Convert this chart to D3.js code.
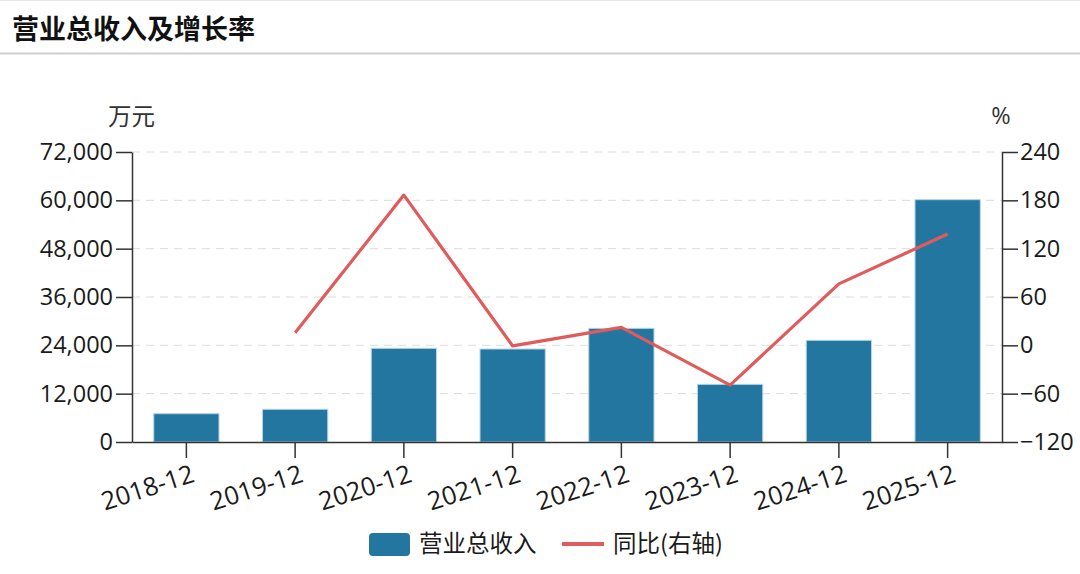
<!DOCTYPE html>
<html>
<head>
<meta charset="utf-8">
<script src="https://cdn.jsdelivr.net/npm/d3@7"></script>
<style>
  body { margin: 0; background: #fff; }
  svg { display: block; font-family: "Open Sans", "Noto Sans CJK SC", sans-serif; }
</style>
</head>
<body>
<svg id="chart" width="1080" height="574"></svg>
<script>
// data
const categories = ['2018-12', '2019-12', '2020-12', '2021-12', '2022-12', '2023-12', '2024-12', '2025-12'];
const revenue = [7030, 8120, 23260, 23090, 28220, 14320, 25250, 60160];   // 万元
const growth = [null, 15.5, 186.5, -0.7, 22.2, -49.3, 76.3, 138.2];      // %
const leftTicks = [0, 12000, 24000, 36000, 48000, 60000, 72000];
const rightTicks = [-120, -60, 0, 60, 120, 180, 240];

const svg = d3.select('#chart');
const plotLeft = 132, plotRight = 1002, plotTop = 152, plotBottom = 442;

// header
svg.append('line').attr('x1', 0).attr('x2', 1080).attr('y1', 0.5).attr('y2', 0.5)
	.attr('stroke', '#e6e6e6');
svg.append('text').attr('x', 12).attr('y', 39)
	.attr('font-family', '"Noto Sans CJK SC", sans-serif')
	.attr('font-size', 27).attr('font-weight', 'bold').attr('fill', '#111')
	.text('营业总收入及增长率');
svg.append('line').attr('x1', 0).attr('x2', 1080).attr('y1', 53.5).attr('y2', 53.5)
	.attr('stroke', '#cfcfd4').attr('stroke-width', 2);

let x = d3.scaleBand().domain(categories).range([plotLeft, plotRight])
	.paddingInner(0.4).paddingOuter(0.2);
let yL = d3.scaleLinear().domain([0, 72000]).range([plotBottom, plotTop]);
let yR = d3.scaleLinear().domain([-120, 240]).range([plotBottom, plotTop]);

// grid
svg.append('g').selectAll('line')
	.data(leftTicks.filter(d => d > 0))
	.enter().append('line')
	.attr('x1', plotLeft).attr('x2', plotRight)
	.attr('y1', d => yL(d)).attr('y2', d => yL(d))
	.attr('stroke', '#dcdcdc').attr('stroke-dasharray', '8,6');

// bars
svg.append('g').selectAll('rect')
	.data(revenue)
	.enter().append('rect')
	.attr('x', (d, i) => x(categories[i]))
	.attr('width', x.bandwidth())
	.attr('y', d => yL(d))
	.attr('height', d => plotBottom - yL(d))
	.attr('fill', '#23769f')
	.attr('stroke', '#b5d5e8').attr('stroke-width', 1);

// growth line
let line = d3.line()
	.defined(d => d != null)
	.x((d, i) => x(categories[i]) + x.bandwidth() / 2)
	.y(d => yR(d));
svg.append('path').datum(growth)
	.attr('d', line)
	.attr('fill', 'none')
	.attr('stroke', '#e05b5b')
	.attr('stroke-width', 3.2)
	.attr('stroke-linejoin', 'round');

// axes
function styleAxis(g) {
	g.selectAll('path.domain').attr('stroke', '#333').attr('stroke-width', 1.5);
	g.selectAll('.tick line').attr('stroke', '#333').attr('stroke-width', 1.5);
	g.selectAll('.tick text').attr('fill', '#1a1a1a').attr('font-size', 23.5)
		.attr('font-family', '"Open Sans", sans-serif');
}

svg.append('g')
	.attr('transform', `translate(${plotLeft},0)`)
	.call(d3.axisLeft(yL).tickValues(leftTicks).tickSize(16).tickSizeOuter(0)
		.tickPadding(3).tickFormat(d3.format(',')))
	.call(styleAxis);

svg.append('g')
	.attr('transform', `translate(${plotRight},0)`)
	.call(d3.axisRight(yR).tickValues(rightTicks).tickSize(16).tickSizeOuter(0)
		.tickPadding(2))
	.call(styleAxis);

let xAxis = svg.append('g')
	.attr('transform', `translate(0,${plotBottom})`)
	.call(d3.axisBottom(x).tickSize(16).tickSizeOuter(0))
	.call(styleAxis);
xAxis.selectAll('.tick text')
	.attr('font-size', 25.5)
	.attr('text-anchor', 'end')
	.attr('transform', 'translate(-2,4) rotate(-18)')
	.attr('dy', '0.71em');

// unit labels
svg.append('text').attr('x', 131.5).attr('y', 125).attr('text-anchor', 'middle')
	.attr('font-family', '"Noto Sans CJK SC", sans-serif')
	.attr('font-size', 23.5).attr('fill', '#333').text('万元');
svg.append('text').attr('x', 1001).attr('y', 124).attr('text-anchor', 'middle')
	.attr('font-size', 23.5).attr('fill', '#333').text('%');

// legend
let legend = svg.append('g').attr('font-family', '"Noto Sans CJK SC", sans-serif')
	.attr('font-size', 23.5).attr('fill', '#1a1a1a');
legend.append('rect').attr('x', 369).attr('y', 533).attr('width', 41).attr('height', 23)
	.attr('rx', 4).attr('fill', '#23769f');
legend.append('text').attr('x', 419).attr('y', 544).attr('dy', '0.36em').text('营业总收入');
legend.append('line').attr('x1', 562).attr('x2', 604).attr('y1', 544).attr('y2', 544)
	.attr('stroke', '#e05b5b').attr('stroke-width', 4);
legend.append('text').attr('x', 613).attr('y', 544).attr('dy', '0.36em').text('同比(右轴)');
</script>
</body>
</html>
